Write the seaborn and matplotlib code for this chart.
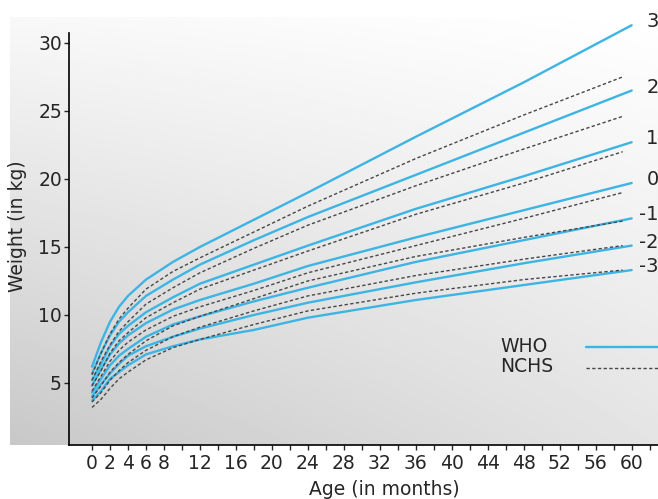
import numpy as np
import pandas as pd
import matplotlib
matplotlib.use('Agg')
import matplotlib.pyplot as plt
import matplotlib.transforms as mtransforms
import seaborn as sns
from matplotlib.lines import Line2D

sns.set_style('ticks')
plt.rcParams['font.family'] = ['DejaVu Sans']

# data (weight in kg by age in months)
months = [0, 1, 2, 3, 4, 6, 9, 12, 18, 24, 36, 48, 60]
nchs_months = [0, 1, 2, 3, 4, 6, 9, 12, 18, 24, 36, 48, 59]
sd_labels = ['3', '2', '1', '0', '-1', '-2', '-3']
legend_labels = ['WHO', 'NCHS']

who_p3 = [6.2, 8.0, 9.5, 10.6, 11.4, 12.6, 13.9, 15.0, 17.0, 19.0, 23.1, 27.1, 31.3]
who_p2 = [5.7, 7.2, 8.5, 9.5, 10.2, 11.4, 12.6, 13.7, 15.5, 17.2, 20.3, 23.4, 26.5]
who_p1 = [5.2, 6.4, 7.7, 8.6, 9.2, 10.2, 11.3, 12.3, 13.7, 15.1, 17.8, 20.2, 22.7]
who_0 = [4.8, 6.0, 7.1, 7.9, 8.5, 9.4, 10.4, 11.1, 12.3, 13.6, 15.7, 17.7, 19.7]
who_m1 = [4.3, 5.3, 6.3, 7.0, 7.5, 8.4, 9.3, 9.9, 11.0, 12.0, 13.9, 15.5, 17.1]
who_m2 = [4.0, 4.9, 5.7, 6.4, 7.0, 7.7, 8.4, 9.0, 10.0, 10.9, 12.4, 13.8, 15.1]
who_m3 = [3.7, 4.4, 5.3, 5.8, 6.3, 7.1, 7.7, 8.2, 8.9, 9.8, 11.1, 12.2, 13.3]

nchs_p3 = [5.6, 7.2, 8.6, 9.7, 10.5, 11.9, 13.2, 14.2, 16.1, 18.0, 21.5, 24.7, 27.5]
nchs_p2 = [5.2, 6.6, 7.8, 8.8, 9.5, 10.8, 12.0, 13.1, 14.9, 16.6, 19.5, 22.2, 24.6]
nchs_p1 = [4.8, 5.9, 7.2, 8.1, 8.7, 9.8, 10.9, 11.9, 13.3, 14.7, 17.4, 19.7, 22.0]
nchs_0 = [4.4, 5.5, 6.6, 7.4, 8.0, 8.9, 9.9, 10.6, 11.8, 13.1, 15.1, 17.1, 19.0]
nchs_m1 = [3.9, 4.8, 5.8, 6.5, 7.1, 8.1, 9.2, 9.9, 11.2, 12.5, 14.3, 15.7, 16.9]
nchs_m2 = [3.6, 4.3, 5.2, 5.9, 6.5, 7.4, 8.4, 9.1, 10.3, 11.4, 12.9, 14.1, 15.1]
nchs_m3 = [3.2, 3.8, 4.6, 5.3, 5.8, 6.7, 7.6, 8.2, 9.3, 10.3, 11.6, 12.6, 13.3]

who_curves = [who_p3, who_p2, who_p1, who_0, who_m1, who_m2, who_m3]
nchs_curves = [nchs_p3, nchs_p2, nchs_p1, nchs_0, nchs_m1, nchs_m2, nchs_m3]

x_ticks = list(range(0, 66, 2))
x_tick_labels = [str(t) if (t <= 8 or t % 4 == 0) and t <= 60 else '' for t in x_ticks]
y_ticks = [5, 10, 15, 20, 25, 30]

BLUE = '#3cb4e4'
GREY = '#474747'
TXT = '#262626'

rows = []
for lab, w, n in zip(sd_labels, who_curves, nchs_curves):
    for m, v in zip(months, w):
        rows.append((m, v, 'WHO ' + lab, 'WHO'))
    for m, v in zip(nchs_months, n):
        rows.append((m, v, 'NCHS ' + lab, 'NCHS'))
df = pd.DataFrame(rows, columns=['month', 'weight', 'curve', 'source'])

W, H = 658, 499
fig = plt.figure(figsize=(W / 100, H / 100), dpi=100)

# grey gradient backdrop
bg = fig.add_axes([10 / W, 1 - 445 / H, 648 / W, 428 / H])
gx, gy = np.meshgrid(np.linspace(0, 1, 200), np.linspace(0, 1, 200))
shade = 200 * (1 - gx) * (1 - gy) + 228 * gx * (1 - gy) + 248 * (1 - gx) * gy + 255 * gx * gy
bg.imshow(shade, cmap='gray', vmin=0, vmax=255, origin='lower', extent=[0, 1, 0, 1], aspect='auto')
bg.axis('off')

ax = fig.add_axes([69 / W, 1 - 445 / H, 631 / W, 432 / H])
ax.set_facecolor('none')

sns.lineplot(data=df, x='month', y='weight', hue='source', style='source', size='source',
             units='curve', estimator=None, sort=False,
             hue_order=['WHO', 'NCHS'], palette={'WHO': BLUE, 'NCHS': GREY},
             dashes={'WHO': '', 'NCHS': (2.4, 1.7)}, sizes={'WHO': 1.7, 'NCHS': 1.0},
             legend=False, ax=ax)

ax.set_xlim(-2.56, 67.6)
ax.set_ylim(0.44, 32.2)
ax.set_xticks(x_ticks)
ax.set_xticklabels(x_tick_labels)
ax.set_yticks(y_ticks)
ax.tick_params(length=3.6, width=1, labelsize=13.5, labelcolor=TXT)
ax.tick_params(axis='y', pad=1.5)
ax.tick_params(axis='x', pad=3)
sns.despine(ax=ax)
for s in ['left', 'bottom']:
    ax.spines[s].set_linewidth(1.2)
    ax.spines[s].set_color('black')
ax.spines['left'].set_bounds(0.44, 30.74)

ax.set_xlabel('Age (in months)', fontsize=13.5, color=TXT, labelpad=5)
ax.set_ylabel('Weight (in kg)', fontsize=13.5, color=TXT)
ax.yaxis.set_label_coords(-0.066, 16.5,
                          transform=mtransforms.blended_transform_factory(ax.transAxes, ax.transData))

for lab, w in zip(sd_labels, who_curves):
    ax.text(63, w[-1] + 0.25, lab, ha='right', va='center', fontsize=14, color=TXT)

# legend: left-aligned labels with the line keys to their right
key_styles = [dict(color=BLUE, lw=1.7), dict(color=GREY, lw=1.0, dashes=(2.4, 1.7))]
for i, (lab, st) in enumerate(zip(legend_labels, key_styles)):
    yc = 1 - (346 + 21 * i) / H
    fig.text(500 / W, yc, lab, ha='left', va='center', fontsize=13.5, color=TXT)
    fig.add_artist(Line2D([586 / W, 1.02], [yc - 1 / H, yc - 1 / H], transform=fig.transFigure, **st))

fig.savefig('out.png', dpi=100)
